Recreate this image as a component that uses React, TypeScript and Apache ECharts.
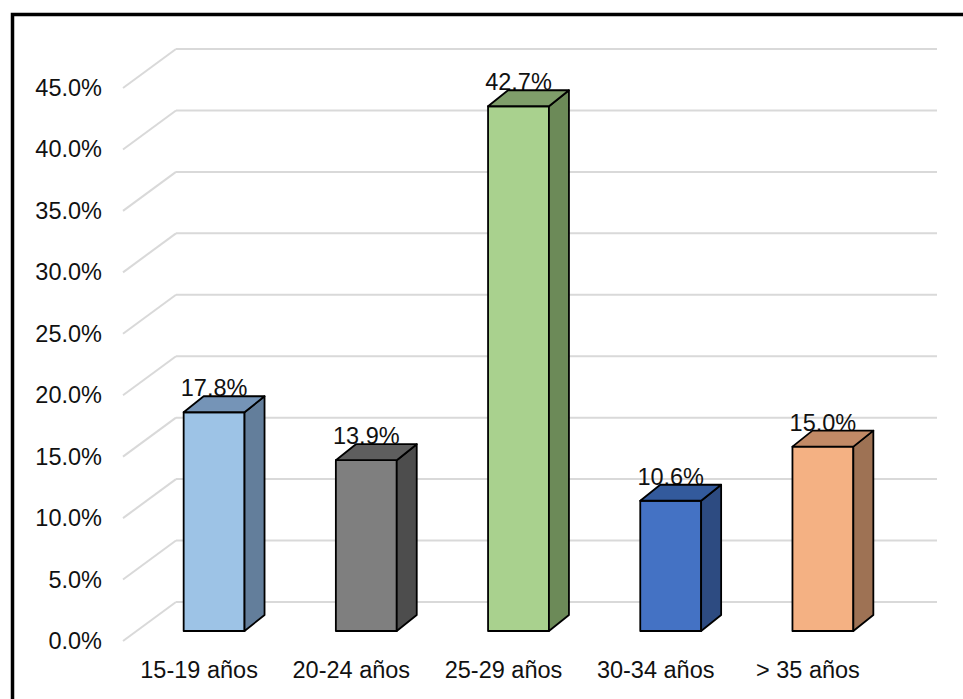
import React, { useEffect, useRef } from "react";
import * as echarts from "echarts";

// Age groups and their share of respondents (%)
const categories = ["15-19 años", "20-24 años", "25-29 años", "30-34 años", "> 35 años"];
const shares = [17.8, 13.9, 42.7, 10.6, 15.0];
const yTicks = [0, 5, 10, 15, 20, 25, 30, 35, 40, 45];

// Face colours of each 3D column: front, top, right side
const frontColors = ["#9DC3E6", "#7F7F7F", "#A9D18E", "#4472C4", "#F4B183"];
const topColors = ["#7594B7", "#5E5E5E", "#7F9E6A", "#335A9C", "#C28A66"];
const sideColors = ["#637E9B", "#4D4D4D", "#6C8A58", "#2D4B81", "#9E7254"];

const FONT = "'Liberation Sans', Arial, Helvetica, sans-serif";
const FONT_SIZE = 23.5;

// Perspective of the chart floor / back wall (pixels)
const WALL_DX = 53;
const WALL_DY = -39;
// Where the columns sit inside the depth, and how deep they are
const BAR_DX = 15;
const BAR_DY = -10;
const DEPTH_DX = 20;
const DEPTH_DY = -16;

export default function App() {
  const ref = useRef<HTMLDivElement>(null);

  useEffect(() => {
    if (!ref.current) return;
    const chart = echarts.init(ref.current, undefined, { renderer: "svg" });

    const option: any = {
      animation: false,
      backgroundColor: "#ffffff",
      grid: { left: 123, right: 79, top: 88, bottom: 58 },
      xAxis: {
        type: "category",
        data: categories,
        axisLine: { show: false },
        axisTick: { show: false },
        axisLabel: {
          interval: 0,
          hideOverlap: false,
          fontSize: FONT_SIZE,
          color: "#111",
          fontFamily: FONT,
          margin: 17,
        },
        splitLine: { show: false },
      },
      yAxis: {
        type: "value",
        min: 0,
        max: 45,
        interval: 5,
        axisLine: { show: false },
        axisTick: { show: false },
        splitLine: { show: false },
        axisLabel: {
          fontSize: FONT_SIZE,
          color: "#111",
          fontFamily: FONT,
          margin: 21,
          formatter: (v: number) => v.toFixed(1) + "%",
        },
      },
      graphic: [
        {
          type: "rect",
          left: 10,
          top: 12,
          shape: { x: 0, y: 0, width: 1000, height: 1000 },
          style: { fill: "none", stroke: "#000", lineWidth: 3.5 },
          silent: true,
          z: 100,
        },
      ],
      series: [
        {
          // floor diagonals and back-wall gridlines
          type: "custom",
          coordinateSystem: "cartesian2d",
          data: yTicks.map((t) => [0, t]),
          z: 1,
          renderItem: (params: any, api: any) => {
            const cs = params.coordSys;
            const y = api.coord([0, api.value(1)])[1];
            const x0 = cs.x;
            const x1 = cs.x + cs.width;
            const style = { stroke: "#D9D9D9", lineWidth: 2, fill: "none" };
            return {
              type: "group",
              children: [
                {
                  type: "line",
                  shape: { x1: x0, y1: y, x2: x0 + WALL_DX, y2: y + WALL_DY },
                  style,
                },
                {
                  type: "line",
                  shape: { x1: x0 + WALL_DX, y1: y + WALL_DY, x2: x1 + WALL_DX, y2: y + WALL_DY },
                  style,
                },
              ],
            };
          },
        },
        {
          // 3D columns with value labels
          type: "custom",
          coordinateSystem: "cartesian2d",
          data: shares.map((v, i) => [i, v]),
          z: 2,
          renderItem: (params: any, api: any) => {
            const i = params.dataIndex;
            const v = api.value(1);
            const base = api.coord([i, 0]);
            const top = api.coord([i, v]);
            const half = api.size([1, 0])[0] * 0.2;
            const cx = base[0] + BAR_DX;
            const xl = cx - half;
            const xr = cx + half;
            const yb = base[1] + BAR_DY;
            const yt = top[1] + BAR_DY;
            const stroke = { stroke: "#000", lineWidth: 1.8, lineJoin: "round" };
            return {
              type: "group",
              children: [
                {
                  type: "text",
                  style: {
                    text: v.toFixed(1) + "%",
                    x: cx,
                    y: yt - 12,
                    textAlign: "center",
                    textVerticalAlign: "bottom",
                    fontSize: FONT_SIZE,
                    fontFamily: FONT,
                    fill: "#111",
                  },
                },
                {
                  type: "polygon",
                  shape: {
                    points: [
                      [xl, yt],
                      [xr, yt],
                      [xr, yb],
                      [xl, yb],
                    ],
                  },
                  style: { fill: frontColors[i], ...stroke },
                },
                {
                  type: "polygon",
                  shape: {
                    points: [
                      [xr, yt],
                      [xr + DEPTH_DX, yt + DEPTH_DY],
                      [xr + DEPTH_DX, yb + DEPTH_DY],
                      [xr, yb],
                    ],
                  },
                  style: { fill: sideColors[i], ...stroke },
                },
                {
                  type: "polygon",
                  shape: {
                    points: [
                      [xl, yt],
                      [xl + DEPTH_DX, yt + DEPTH_DY],
                      [xr + DEPTH_DX, yt + DEPTH_DY],
                      [xr, yt],
                    ],
                  },
                  style: { fill: topColors[i], ...stroke },
                },
              ],
            };
          },
        },
      ],
    };

    chart.setOption(option);
    return () => chart.dispose();
  }, []);

  return (
    <div
      ref={ref}
      style={{ position: "fixed", left: 0, top: 0, width: 963, height: 699, background: "#fff" }}
    />
  );
}
